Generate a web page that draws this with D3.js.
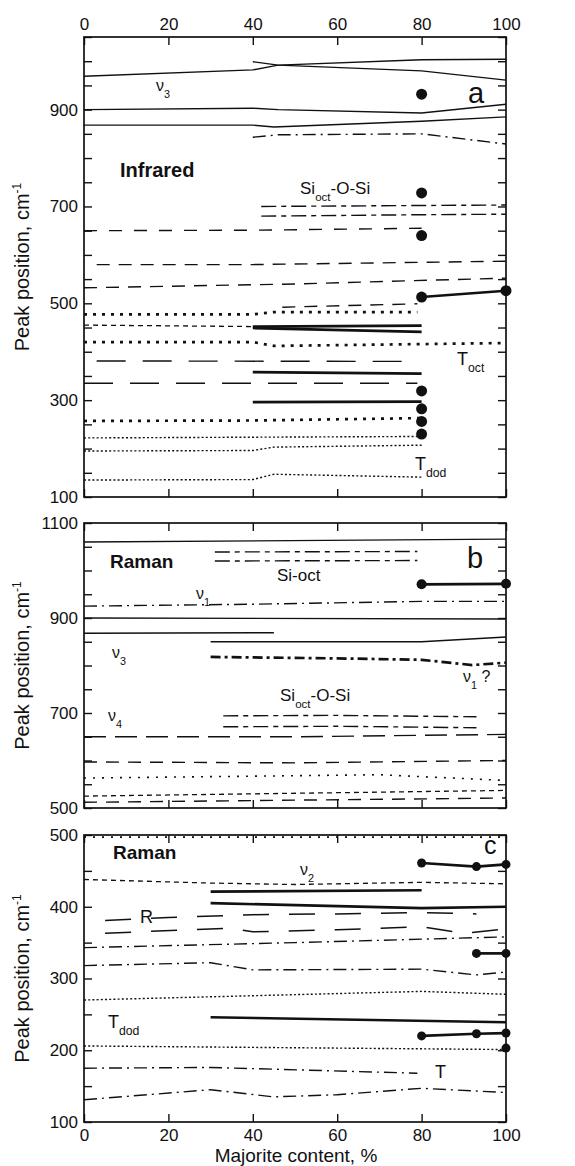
<!DOCTYPE html>
<html>
<head>
<meta charset="utf-8">
<script src="https://cdn.jsdelivr.net/npm/d3@7"></script>
<style>
  body { margin: 0; background: #fff; }
  svg text { font-family: "Liberation Sans", Arial, sans-serif; fill: #111; }
</style>
</head>
<body>
<div id="chart"></div>
<script>
// x axis (majorite content, %)
var xTicks = [0, 20, 40, 60, 80, 100];

// ---- panel a : infrared peaks, [majorite %, cm-1]
var irNu3Upper = [[0, 969], [40, 982], [46, 992], [80, 1003], [100, 1004]];
var irNu3Split = [[40, 999], [46, 992], [80, 980], [100, 961]];
var irNu3Mid   = [[0, 900], [40, 903], [46, 900], [80, 893], [100, 911]];
var irNu3Low   = [[0, 868], [40, 868], [45, 864], [80, 876], [100, 885]];
var ir845      = [[40, 843], [46, 848], [80, 850], [100, 829]];
var irSiOSi1   = [[42, 700], [80, 702], [100, 703]];
var irSiOSi2   = [[42, 680], [80, 683], [100, 684]];
var ir650      = [[0, 650], [40, 651], [80, 655]];
var ir580      = [[3, 580], [40, 580], [100, 587]];
var ir540      = [[0, 532], [50, 540], [100, 552]];
var ir495      = [[47, 492], [79, 499]];
var ir480      = [[0, 477], [40, 477], [45, 482], [79, 482]];
var ir455      = [[0, 455], [40, 452]];
var irSolid452 = [[40, 452], [80, 454]];
var irSolid445 = [[40, 449], [80, 441]];
var ir420      = [[0, 420], [40, 420], [45, 412], [100, 418]];
var ir380      = [[3, 381], [79, 380]];
var irSolid357 = [[40, 358], [80, 355]];
var ir335      = [[0, 335], [79, 335]];
var irSolid297 = [[40, 296], [80, 297]];
var ir260      = [[0, 257], [40, 258], [80, 263]];
var ir222      = [[0, 222], [80, 225]];
var ir200      = [[0, 195], [40, 196], [45, 203], [80, 207]];
var ir140      = [[0, 135], [40, 136], [45, 147], [80, 141]];
var irDots     = [[80, 932], [80, 728], [80, 640], [80, 319], [80, 282], [80, 256], [80, 230]];
var irDotLine  = [[80, 513], [100, 526]];

// ---- panel b : Raman high frequency
var rbTop      = [[0, 1060], [100, 1066]];
var rbSiOct1   = [[31, 1039], [79, 1040]];
var rbSiOct2   = [[31, 1020], [79, 1021]];
var rbDotLine  = [[80, 971], [100, 972]];
var rbNu1      = [[0, 925], [40, 929], [80, 935], [100, 935]];
var rb900      = [[0, 900], [100, 898]];
var rb868      = [[0, 868], [45, 869]];
var rb850      = [[30, 850], [80, 850], [100, 860]];
var rbNu1q     = [[30, 818], [60, 815], [80, 812], [92, 801], [100, 806]];
var rbSiOSi1   = [[33, 694], [60, 695], [93, 692]];
var rbSiOSi2   = [[33, 671], [60, 672], [93, 669]];
var rb650      = [[0, 650], [50, 650], [100, 655]];
var rb597      = [[0, 597], [50, 595], [100, 600]];
var rb565      = [[0, 563], [70, 570], [100, 558]];
var rb530      = [[0, 525], [100, 537]];
var rb512      = [[0, 512], [100, 521]];

// ---- panel c : Raman low frequency
var rc497      = [[0, 497], [100, 497]];
var rcDotLine1 = [[80, 461], [93, 456], [100, 459]];
var rcNu2      = [[0, 438], [30, 433], [50, 431], [80, 434], [100, 432]];
var rcSolid422 = [[30, 421], [80, 423]];
var rcSolid403 = [[30, 405], [80, 398], [100, 400]];
var rcR1       = [[5, 381], [20, 385], [40, 389], [60, 390], [80, 392], [93, 390]];
var rcR2       = [[5, 363], [25, 368], [35, 370], [40, 365], [60, 368], [80, 372], [90, 363], [100, 369]];
var rc350      = [[0, 343], [50, 350], [100, 358]];
var rcDotLine2 = [[93, 335], [100, 335]];
var rc318      = [[0, 318], [30, 322], [40, 312], [80, 313], [93, 305], [100, 309]];
var rc275      = [[0, 270], [80, 282], [100, 278]];
var rcSolid245 = [[30, 246], [100, 239]];
var rcDotLine3 = [[80, 220], [93, 223], [100, 224]];
var rcDots     = [[100, 203]];
var rc205      = [[0, 206], [100, 201]];
var rc172      = [[0, 175], [30, 176], [79, 168]];
var rc140      = [[0, 131], [30, 145], [45, 135], [60, 138], [80, 147], [100, 141]];

// line styles
var styles = {
  solid:     { w: 1.4, dash: null },
  thick:     { w: 2.7, dash: null },
  dashLong:  { w: 1.4, dash: '13,12' },
  dashMed:   { w: 1.4, dash: '13,9' },
  dashXL:    { w: 1.4, dash: '29,17' },
  dashWide:  { w: 1.4, dash: '22,9' },
  dashShort: { w: 1.3, dash: '5,4' },
  dashR:     { w: 1.5, dash: '26,20' },
  dotThick:  { w: 2.7, dash: '3,6' },
  dotThin:   { w: 1.4, dash: '2,2.2' },
  dotSparse: { w: 1.6, dash: '2,7' },
  dashDot:   { w: 1.4, dash: '13,5,2,5' },
  dashDotTk: { w: 2.7, dash: '10,4,3,4' },
  longShort: { w: 1.4, dash: '15,5,5,5' }
};

var panels = [
  {
    domain: [100, 1050], top: 37, bottom: 497, labels: [100, 300, 500, 700, 900], topLabels: true,
    lines: [
      [irNu3Upper, 'solid'], [irNu3Split, 'solid'], [irNu3Mid, 'solid'], [irNu3Low, 'solid'],
      [ir845, 'dashDot'], [irSiOSi1, 'longShort'], [irSiOSi2, 'longShort'],
      [ir650, 'dashLong'], [ir580, 'dashMed'], [ir540, 'dashMed'], [ir495, 'dashMed'],
      [ir480, 'dotThick'], [ir455, 'dashShort'], [irSolid452, 'thick'], [irSolid445, 'thick'],
      [ir420, 'dotThick'], [ir380, 'dashXL'], [irSolid357, 'thick'], [ir335, 'dashXL'],
      [irSolid297, 'thick'], [ir260, 'dotThick'], [ir222, 'dotThin'], [ir200, 'dotThin'], [ir140, 'dotThin']
    ],
    dotLines: [irDotLine], dots: irDots, r: 5.5
  },
  {
    domain: [500, 1100], top: 523, bottom: 808, labels: [500, 700, 900, 1100],
    lines: [
      [rbTop, 'solid'], [rbSiOct1, 'longShort'], [rbSiOct2, 'longShort'], [rbNu1, 'dashDot'],
      [rb900, 'solid'], [rb868, 'solid'], [rb850, 'solid'], [rbNu1q, 'dashDotTk'],
      [rbSiOSi1, 'longShort'], [rbSiOSi2, 'longShort'], [rb650, 'dashWide'], [rb597, 'dashMed'],
      [rb565, 'dotSparse'], [rb530, 'dashShort'], [rb512, 'dashMed']
    ],
    dotLines: [rbDotLine], dots: [], r: 5
  },
  {
    domain: [100, 500], top: 835, bottom: 1122, labels: [100, 200, 300, 400, 500], bottomLabels: true,
    lines: [
      [rc497, 'dotSparse'], [rcNu2, 'dashShort'], [rcSolid422, 'thick'], [rcSolid403, 'thick'],
      [rcR1, 'dashR'], [rcR2, 'dashR'], [rc350, 'dashDot'], [rc318, 'dashDot'], [rc275, 'dotThin'],
      [rcSolid245, 'thick'], [rc205, 'dotThin'], [rc172, 'dashDot'], [rc140, 'dashDot']
    ],
    dotLines: [rcDotLine1, rcDotLine2, rcDotLine3], dots: rcDots, r: 4.5
  }
];

var width = 575, height = 1166;
var x = d3.scaleLinear().domain([0, 100]).range([84, 506]);

var svg = d3.select('#chart').append('svg')
  .attr('width', width).attr('height', height);

// small helper for labels with subscripts
function label(xp, yp, parts, size, weight) {
  var t = svg.append('text').attr('x', xp).attr('y', yp)
    .style('font-size', size + 'px').style('font-weight', weight || 'normal');
  parts.forEach(function(p) {
    var s = t.append('tspan').text(p[0]);
    if (p[1] === 'sub') s.attr('dy', 7).style('font-size', (size * 0.68) + 'px');
    if (p[1] === 'up') s.attr('dy', -7);
  });
  return t;
}

panels.forEach(function(p) {
  var y = d3.scaleLinear().domain(p.domain).range([p.bottom, p.top]);
  var g = svg.append('g');
  var ticks = d3.range(p.domain[0], p.domain[1] + 1, 50);
  var fmt = function(d) { return p.labels.indexOf(d) >= 0 ? d : ''; };

  var line = d3.line().x(function(d) { return x(d[0]); }).y(function(d) { return y(d[1]); });

  p.lines.forEach(function(l) {
    var st = styles[l[1]];
    g.append('path').attr('d', line(l[0]))
      .attr('fill', 'none').attr('stroke', '#111')
      .attr('stroke-width', st.w)
      .attr('stroke-dasharray', st.dash);
  });

  p.dotLines.forEach(function(dl) {
    g.append('path').attr('d', line(dl)).attr('fill', 'none')
      .attr('stroke', '#111').attr('stroke-width', 2.7);
    g.selectAll(null).data(dl).enter().append('circle')
      .attr('cx', function(d) { return x(d[0]); })
      .attr('cy', function(d) { return y(d[1]); })
      .attr('r', p.r).attr('fill', '#111');
  });

  g.selectAll(null).data(p.dots).enter().append('circle')
    .attr('cx', function(d) { return x(d[0]); })
    .attr('cy', function(d) { return y(d[1]); })
    .attr('r', p.r).attr('fill', '#111');

  // axes, ticks pointing inward
  g.append('g').attr('transform', 'translate(' + x(0) + ',0)')
    .call(d3.axisLeft(y).tickValues(ticks).tickFormat(fmt).tickSizeInner(-8).tickSizeOuter(0).tickPadding(6));
  g.append('g').attr('transform', 'translate(' + x(100) + ',0)')
    .call(d3.axisRight(y).tickValues(ticks).tickFormat('').tickSizeInner(-8).tickSizeOuter(0));
  g.append('g').attr('transform', 'translate(0,' + p.top + ')')
    .call(d3.axisTop(x).tickValues(xTicks).tickFormat(p.topLabels ? d3.format('d') : '')
      .tickSizeInner(-8).tickSizeOuter(0).tickPadding(7));
  g.append('g').attr('transform', 'translate(0,' + p.bottom + ')')
    .call(d3.axisBottom(x).tickValues(xTicks).tickFormat(p.bottomLabels ? d3.format('d') : '')
      .tickSizeInner(-8).tickSizeOuter(0).tickPadding(7));

  g.selectAll('.domain').remove();
  g.selectAll('.tick line').attr('stroke', '#111').attr('stroke-width', 1.4);
  g.selectAll('.tick text').style('font-size', '17px')
    .style('font-family', '"Liberation Sans", Arial, sans-serif').attr('fill', '#111');

  g.append('rect').attr('x', x(0)).attr('y', p.top)
    .attr('width', x(100) - x(0)).attr('height', p.bottom - p.top)
    .attr('fill', 'none').attr('stroke', '#111').attr('stroke-width', 1.7);

  // y axis title
  var cy = (p.top + p.bottom) / 2;
  var t = svg.append('text').attr('transform', 'translate(29,' + cy + ') rotate(-90)')
    .attr('text-anchor', 'middle').style('font-size', '20px');
  t.append('tspan').text('Peak position, cm');
  t.append('tspan').text('-1').attr('dy', -8).style('font-size', '12px');
});

// panel a annotations
label(156, 91, [['\u03bd'], ['3', 'sub']], 16);
svg.append('text').attr('x', 468).attr('y', 103).style('font-size', '29px').text('a');
label(120, 177, [['Infrared']], 20, 'bold');
label(300, 194, [['Si'], ['oct', 'sub'], ['-O-Si', 'up']], 17);
label(457, 365, [['T'], ['oct', 'sub']], 18);
label(415, 470, [['T'], ['dod', 'sub']], 18);

// panel b annotations
label(110, 568, [['Raman']], 19, 'bold');
svg.append('text').attr('x', 467).attr('y', 568).style('font-size', '29px').text('b');
label(277, 581, [['Si-oct']], 17);
label(196, 599, [['\u03bd'], ['1', 'sub']], 16);
label(112, 658, [['\u03bd'], ['3', 'sub']], 16);
label(463, 682, [['\u03bd'], ['1', 'sub'], [' ?', 'up']], 16);
label(280, 701, [['Si'], ['oct', 'sub'], ['-O-Si', 'up']], 17);
label(108, 721, [['\u03bd'], ['4', 'sub']], 16);

// panel c annotations
label(113, 859, [['Raman']], 19, 'bold');
svg.append('text').attr('x', 484).attr('y', 854).style('font-size', '25px').text('c');
label(300, 875, [['\u03bd'], ['2', 'sub']], 16);
label(140, 923, [['R']], 18);
label(108, 1028, [['T'], ['dod', 'sub']], 18);
label(435, 1078, [['T']], 18);

// x axis title
svg.append('text').attr('x', 296).attr('y', 1162).attr('text-anchor', 'middle')
  .style('font-size', '19px').text('Majorite content, %');
</script>
</body>
</html>
